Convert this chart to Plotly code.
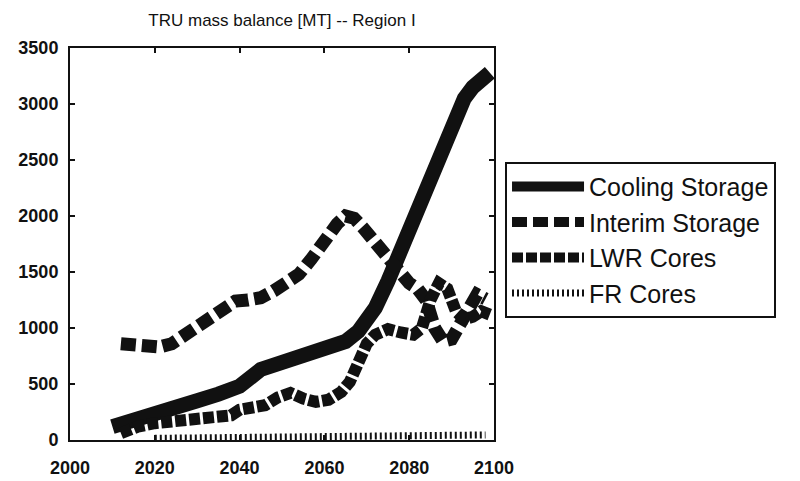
"""TRU mass balance chart, Region I."""
import plotly.graph_objects as go

# Cooling Storage
cool_years = [2010, 2012, 2015, 2018, 2020, 2025, 2030, 2035, 2040, 2045, 2050, 2055,
              2060, 2065, 2068, 2070, 2072, 2075, 2078, 2080, 2083, 2085, 2088, 2090,
              2093, 2095, 2097, 2099]
cool_vals = [120, 140, 170, 200, 230, 290, 350, 410, 480, 630, 700, 770,
             830, 880, 970, 1060, 1180, 1420, 1700, 1900, 2150, 2320, 2590, 2800,
             3050, 3150, 3230, 3280]

# Interim Storage
interim_years = [2012, 2014, 2016, 2019, 2021, 2024, 2027, 2030, 2033, 2036, 2039, 2042,
                 2045, 2048, 2051, 2054, 2057, 2060, 2063, 2065, 2067, 2069, 2072, 2075,
                 2078, 2080, 2082, 2084, 2086, 2088, 2090, 2092, 2094, 2096, 2098]
interim_vals = [860, 850, 840, 820, 830, 860, 930, 1000, 1080, 1170, 1240, 1250,
                1270, 1330, 1390, 1480, 1620, 1790, 1930, 2000, 1980, 1900, 1760, 1620,
                1480, 1400, 1350, 1250, 1000, 880, 900, 1050, 1180, 1300, 1260]

# LWR Cores
lwr_years = [2012, 2014, 2016, 2020, 2025, 2030, 2035, 2038, 2040, 2043, 2046, 2049,
             2052, 2055, 2058, 2061, 2064, 2066, 2068, 2070, 2072, 2075, 2078, 2081,
             2083, 2085, 2087, 2089, 2091, 2093, 2095, 2097, 2099]
lwr_vals = [60, 90, 120, 150, 170, 180, 190, 220, 270, 300, 310, 380,
            420, 370, 340, 360, 430, 520, 700, 860, 940, 990, 960, 940,
            1000, 1250, 1400, 1350, 1150, 1080, 1100, 1150, 1120]

# FR Cores
fr_years = [2020, 2030, 2040, 2050, 2060, 2070, 2080, 2090, 2098]
fr_vals = [15, 20, 25, 25, 30, 30, 35, 40, 45]

x_ticks = [2000, 2020, 2040, 2060, 2080, 2100]
y_ticks = [0, 500, 1000, 1500, 2000, 2500, 3000, 3500]

FONT = "Liberation Sans, Arial, sans-serif"
INK = "#111111"

fig = go.Figure()
fig.add_trace(go.Scatter(x=cool_years, y=cool_vals, name="Cooling Storage", mode="lines",
                         line=dict(color=INK, width=15)))
fig.add_trace(go.Scatter(x=interim_years, y=interim_vals, name="Interim Storage", mode="lines",
                         line=dict(color=INK, width=13, dash="15px,6px")))
fig.add_trace(go.Scatter(x=lwr_years, y=lwr_vals, name="LWR Cores", mode="lines",
                         line=dict(color=INK, width=12, dash="11px,3px")))
fig.add_trace(go.Scatter(x=fr_years, y=fr_vals, name="FR Cores", mode="lines",
                         line=dict(color=INK, width=7, dash="2px,3px")))

axis_common = dict(
    showgrid=False, zeroline=False, showline=True, linecolor=INK, linewidth=2,
    mirror="ticks", ticks="inside", ticklen=5, tickcolor=INK, tickwidth=1.5,
    tickfont=dict(family=FONT, size=18, color=INK, weight="bold"),
    automargin=False,
)

fig.update_layout(
    width=800, height=481,
    margin=dict(l=70, r=306, t=48, b=41),
    paper_bgcolor="white", plot_bgcolor="white",
    title=dict(text="TRU mass balance [MT] -- Region I", x=0.5, xref="paper",
               y=0.97, yanchor="top", font=dict(family=FONT, size=17, color=INK)),
    xaxis=dict(range=[2000, 2100], tickvals=x_ticks, ticklabelstandoff=10, **axis_common),
    yaxis=dict(range=[0, 3500], tickvals=y_ticks, ticklabelstandoff=6, **axis_common),
    legend=dict(x=1.026, y=0.71, xanchor="left", yanchor="top",
                bgcolor="white", bordercolor=INK, borderwidth=2,
                font=dict(family=FONT, size=25, color=INK), itemwidth=72,
                tracegroupgap=0),
    showlegend=True,
)

fig.write_html("out.html", config={"displayModeBar": False},
               post_script="document.body.style.margin='0';")
